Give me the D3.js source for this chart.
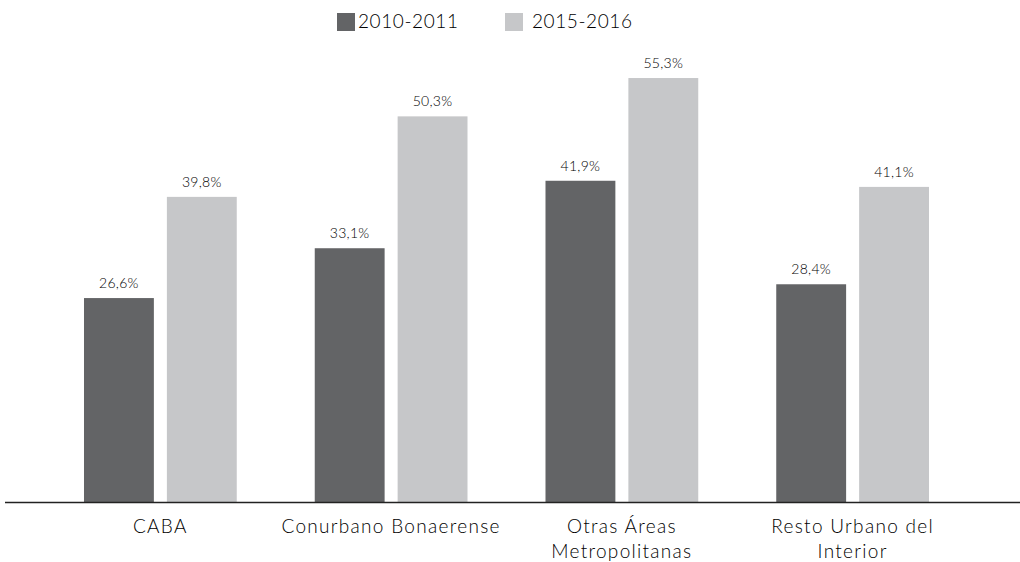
<!DOCTYPE html>
<html><head><meta charset="utf-8">
<script src="https://cdn.jsdelivr.net/npm/d3@7"></script>
<style>
html,body{margin:0;padding:0;background:#fff;}
svg{display:block;font-family:Lato,"Open Sans",sans-serif;font-weight:300;}
</style></head>
<body>
<svg id="chart" width="1020" height="562"></svg>
<script>
const categories = [["CABA"], ["Conurbano Bonaerense"], ["Otras Áreas", "Metropolitanas"], ["Resto Urbano del", "Interior"]];
const seriesNames = ["2010-2011", "2015-2016"];
const values2010 = [26.6, 33.1, 41.9, 28.4];
const values2015 = [39.8, 50.3, 55.3, 41.1];
const colors = ["#636466", "#c6c7c9"];

const svg = d3.select("#chart");
const baseY = 502;
const x0 = d3.scaleBand().domain(d3.range(categories.length)).range([45, 968]).paddingInner(0.338).paddingOuter(0.169);
const x1 = d3.scaleBand().domain(d3.range(seriesNames.length)).range([0, x0.bandwidth()]).paddingInner(0.157);
const y = d3.scaleLinear().domain([0, 60]).range([baseY, 42]);
const fmt = v => d3.format(".1f")(v).replace(".", ",") + "%";

const data = categories.map((c, i) => ({c, i, vals: [values2010[i], values2015[i]]}));

const g = svg.selectAll("g.grp").data(data).join("g").attr("class", "grp")
  .attr("transform", d => `translate(${x0(d.i)},0)`);
g.selectAll("rect").data(d => d.vals.map((v, k) => ({v, k}))).join("rect")
  .attr("x", d => x1(d.k)).attr("width", x1.bandwidth())
  .attr("y", d => y(d.v)).attr("height", d => baseY - y(d.v))
  .attr("fill", d => colors[d.k]);
g.selectAll("text.val").data(d => d.vals.map((v, k) => ({v, k}))).join("text")
  .attr("class", "val")
  .attr("x", d => x1(d.k) + x1.bandwidth() / 2).attr("y", d => y(d.v) - 10)
  .attr("text-anchor", "middle").attr("font-size", 14).attr("fill", "#000")
  .attr("letter-spacing", 0.3)
  .text(d => fmt(d.v));

// axis
const axis = d3.axisBottom(x0).tickSize(0).tickFormat("");
const ax = svg.append("g").attr("transform", `translate(0,${baseY})`).call(axis);
ax.select(".domain").remove();
svg.append("line").attr("x1", 5).attr("x2", 1020).attr("y1", baseY + 0.5).attr("y2", baseY + 0.5)
  .attr("stroke", "#222").attr("stroke-width", 1.3);

svg.selectAll("text.cat").data(data).join("text").attr("class", "cat")
  .attr("x", d => x0(d.i) + x0.bandwidth() / 2)
  .attr("y", 533).attr("text-anchor", "middle").attr("font-size", 19).attr("fill", "#000")
  .attr("letter-spacing", 1.3)
  .each(function(d) {
    d3.select(this).selectAll("tspan").data(d.c).join("tspan")
      .attr("x", x0(d.i) + x0.bandwidth() / 2).attr("dy", (t, j) => j === 0 ? 0 : 25).text(t => t);
  });

// legend
const legX = [337, 505];
const leg = svg.selectAll("g.leg").data(seriesNames).join("g").attr("class", "leg")
  .attr("transform", (d, i) => `translate(${legX[i]},13)`);
leg.append("rect").attr("width", 18).attr("height", 18).attr("fill", (d, i) => colors[i]);
leg.append("text").attr("x", (d, i) => i === 0 ? 21 : 27).attr("y", 15).attr("font-size", 19)
  .attr("letter-spacing", 0.6)
  .attr("fill", "#000").text(d => d);
</script>
</body></html>
